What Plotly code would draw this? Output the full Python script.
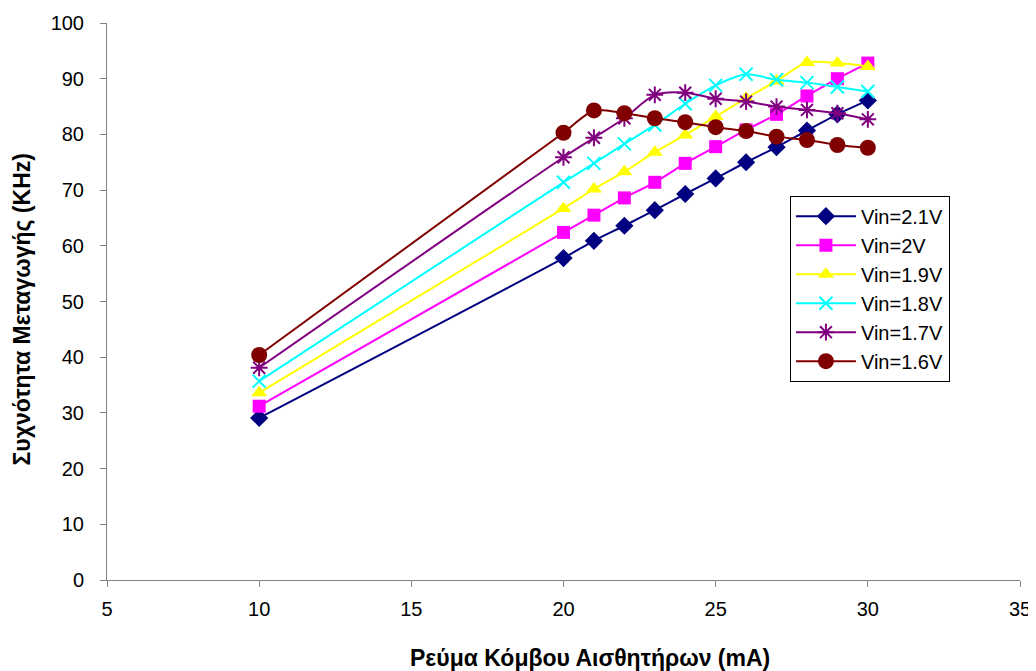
import plotly.graph_objects as go

x_ma = [10, 20, 21, 22, 23, 24, 25, 26, 27, 28, 29, 30]

vin_21 = [29.1, 57.8, 60.9, 63.6, 66.4, 69.3, 72.1, 75.0, 77.7, 80.7, 83.6, 86.1]
vin_20 = [31.2, 62.4, 65.5, 68.6, 71.4, 74.8, 77.8, 80.8, 83.6, 86.9, 90.0, 92.8]
vin_19 = [33.6, 66.7, 70.2, 73.3, 76.8, 79.9, 83.2, 86.5, 89.6, 92.9, 92.8, 92.2]
vin_18 = [35.7, 71.4, 74.8, 78.3, 81.7, 85.5, 88.8, 90.8, 89.8, 89.3, 88.5, 87.7]
vin_17 = [38.1, 75.9, 79.4, 82.9, 87.1, 87.5, 86.4, 85.9, 85.0, 84.4, 83.8, 82.7]
vin_16 = [40.4, 80.3, 84.3, 83.8, 82.9, 82.2, 81.3, 80.6, 79.6, 79.0, 78.1, 77.6]

series_names = ["Vin=2.1V", "Vin=2V", "Vin=1.9V", "Vin=1.8V", "Vin=1.7V", "Vin=1.6V"]
series_vals = [vin_21, vin_20, vin_19, vin_18, vin_17, vin_16]
colors = ["#000080", "#FF00FF", "#FFFF00", "#00FFFF", "#800080", "#800000"]
symbols = ["diamond", "square", "triangle-up", "x-thin-open", "asterisk-open", "circle"]
sizes = [14, 13, 14, 13, 14, 16]

x_title = "Ρεύμα Κόμβου Αισθητήρων (mA)"
y_title = "Συχνότητα Μεταγωγής (KHz)"

fig = go.Figure()
for name, vals, c, s, sz in zip(series_names, series_vals, colors, symbols, sizes):
    fig.add_trace(go.Scatter(
        x=x_ma, y=vals, name=name, mode="lines+markers",
        line=dict(color=c, width=2, shape="spline", smoothing=0.8),
        marker=dict(symbol=s, size=sz, color=c,
                    line=dict(color=c, width=2 if "open" in s else 0)),
    ))

fig.update_layout(
    width=1028, height=663,
    margin=dict(l=99, r=16, t=15, b=91),
    paper_bgcolor="white", plot_bgcolor="white",
    font=dict(family="Arial, Liberation Sans", size=20, color="black"),
    showlegend=True,
    legend=dict(x=0.748, y=0.69, xanchor="left", yanchor="top",
                bordercolor="black", borderwidth=1, bgcolor="white",
                font=dict(size=20), tracegroupgap=0, itemwidth=60),
    xaxis=dict(range=[5, 35], tickmode="linear", tick0=5, dtick=5,
               showgrid=False, zeroline=False, showline=True, automargin=False,
               linecolor="#808080", linewidth=1, ticks="outside",
               ticklen=6, tickcolor="#808080", tickfont=dict(size=20),
               ticklabelstandoff=5),
    yaxis=dict(range=[0, 100], tickmode="linear", tick0=0, dtick=10,
               showgrid=False, zeroline=False, showline=True, automargin=False,
               linecolor="#808080", linewidth=1, ticks="outside",
               ticklen=6, tickcolor="#808080", tickfont=dict(size=20),
               ticklabelstandoff=12),
    annotations=[
        dict(text="<b>" + x_title + "</b>", xref="paper", yref="paper",
             x=0.529, y=-0.140, xanchor="center", yanchor="middle",
             showarrow=False, font=dict(size=23)),
        dict(text="<b>" + y_title + "</b>", xref="paper", yref="paper",
             x=-0.0935, y=0.485, xanchor="center", yanchor="middle",
             textangle=-90, showarrow=False, font=dict(size=23)),
    ],
)

fig.write_html("out.html")
